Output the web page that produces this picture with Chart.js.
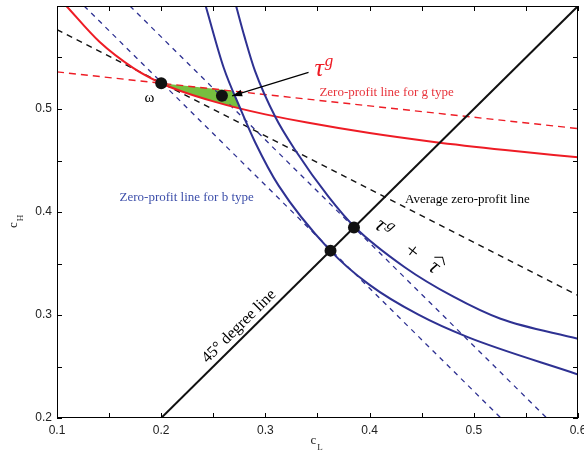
<!DOCTYPE html>
<html>
<head>
<meta charset="utf-8">
<script src="https://cdn.jsdelivr.net/npm/chart.js@4.4.0/dist/chart.umd.min.js"></script>
<style>
  html, body { margin: 0; padding: 0; background: #fff; }
  canvas { display: block; }
</style>
</head>
<body>
<canvas id="chart" width="584" height="456"></canvas>
<script>
// straight zero-profit lines
const gLineX = [0.1, 0.6];
const gLineY = [0.536, 0.481];
const avgLineX = [0.1, 0.6];
const avgLineY = [0.577, 0.319];
const bLine1X = [0.126, 0.526];
const bLine1Y = [0.6, 0.2];
const bLine2X = [0.17, 0.57];
const bLine2Y = [0.6, 0.2];
const diagX = [0.2, 0.6];
const diagY = [0.2, 0.6];

// indifference curves
const gCurveX = [0.109, 0.141, 0.173, 0.2, 0.22, 0.25, 0.275, 0.3, 0.34, 0.4, 0.46, 0.53, 0.6];
const gCurveY = [0.600, 0.565, 0.540, 0.525, 0.517, 0.5074, 0.5006, 0.4948, 0.4868, 0.4766, 0.4682, 0.4601, 0.4531];
const bCurve1X = [0.2427, 0.26, 0.2761, 0.29, 0.3127, 0.3614, 0.4, 0.4464, 0.4942, 0.6];
const bCurve1Y = [0.600, 0.540, 0.500, 0.468, 0.4256, 0.3635, 0.3292, 0.3005, 0.2785, 0.2423];
const bCurve2X = [0.2719, 0.28, 0.29, 0.3098, 0.3287, 0.3605, 0.386, 0.4337, 0.48, 0.5257, 0.6];
const bCurve2Y = [0.600, 0.570, 0.537, 0.4917, 0.4600, 0.4150, 0.3852, 0.3464, 0.318, 0.2963, 0.2769];

// shaded set (green)
const shadeX = [0.2, 0.2689, 0.2757, 0.25, 0.22, 0.2];
const shadeY = [0.525, 0.5176, 0.5004, 0.5074, 0.517, 0.525];

// marked points: omega, tau^g, and the two points on the 45 degree line
const dotX = [0.2, 0.2583, 0.3625, 0.385];
const dotY = [0.525, 0.5129, 0.3625, 0.385];

// arrow from the tau^g label to its point
const arrowX = [0.3414, 0.2681];
const arrowY = [0.5355, 0.5127];

// axis ticks
const xTickVals = [0.1, 0.15, 0.2, 0.25, 0.3, 0.35, 0.4, 0.45, 0.5, 0.55, 0.6];
const yTickVals = [0.2, 0.25, 0.3, 0.35, 0.4, 0.45, 0.5, 0.55, 0.6];

const RED = '#ee1c25';
const BLUE = '#2e3192';
const SERIF = '"Liberation Serif", "Times New Roman", serif';
const SANS = '"Liberation Sans", Arial, sans-serif';

function pts(xs, ys) {
  return xs.map((v, i) => ({x: v, y: ys[i]}));
}

function line(xs, ys, color, width, dash, smooth) {
  return {
    data: pts(xs, ys),
    showLine: true,
    borderColor: color,
    borderWidth: width,
    borderDash: dash || [],
    pointRadius: 0,
    fill: false,
    cubicInterpolationMode: smooth ? 'monotone' : 'default',
    tension: 0
  };
}

// main text followed by a smaller raised/lowered piece
function sub(ctx, main, small, px, py, size, smallSize, color, shift, italic) {
  const st = italic ? 'italic ' : '';
  ctx.fillStyle = color;
  ctx.font = st + size + 'px ' + SERIF;
  ctx.fillText(main, px, py);
  const w = ctx.measureText(main).width;
  ctx.font = st + smallSize + 'px ' + SERIF;
  ctx.fillText(small, px + w + 1, py + shift);
}

const annot = {
  id: 'annot',
  afterDatasetsDraw(chart) {
    const {ctx, scales: {x, y}} = chart;
    const X = v => x.getPixelForValue(v);
    const Y = v => y.getPixelForValue(v);
    ctx.save();

    // arrow head
    const tx = X(arrowX[1]), ty = Y(arrowY[1]);
    const ang = Math.atan2(ty - Y(arrowY[0]), tx - X(arrowX[0]));
    ctx.fillStyle = '#000';
    ctx.beginPath();
    ctx.moveTo(tx, ty);
    ctx.lineTo(tx - 10 * Math.cos(ang) + 3.5 * Math.sin(ang), ty - 10 * Math.sin(ang) - 3.5 * Math.cos(ang));
    ctx.lineTo(tx - 10 * Math.cos(ang) - 3.5 * Math.sin(ang), ty - 10 * Math.sin(ang) + 3.5 * Math.cos(ang));
    ctx.closePath();
    ctx.fill();

    // tau^g label (red)
    ctx.textBaseline = 'alphabetic';
    ctx.textAlign = 'left';
    sub(ctx, 'τ', 'g', X(0.3471), Y(0.5323), 26, 17, RED, -10, true);

    ctx.textBaseline = 'middle';
    ctx.font = '13px ' + SERIF;
    ctx.fillStyle = '#e8343c';
    ctx.fillText('Zero-profit line for g type', X(0.3518), Y(0.5158));
    ctx.fillStyle = '#3d4faa';
    ctx.fillText('Zero-profit line for b type', X(0.16), Y(0.414));
    ctx.fillStyle = '#000';
    ctx.fillText('Average zero-profit line', X(0.434), Y(0.412));

    ctx.font = '15px ' + SERIF;
    ctx.textAlign = 'center';
    ctx.fillText('ω', X(0.1886), Y(0.511));

    // 45 degree label along the diagonal
    ctx.save();
    ctx.translate(X(0.2747), Y(0.2889));
    ctx.rotate(-Math.atan2(Y(0.2) - Y(0.6), X(0.6) - X(0.2)));
    ctx.font = '16px ' + SERIF;
    ctx.fillText('45° degree line', 0, 0);
    ctx.restore();

    // tau^g + tau-hat label
    ctx.save();
    ctx.translate(X(0.4075), Y(0.3895));
    ctx.rotate(38 * Math.PI / 180);
    ctx.textAlign = 'left';
    ctx.textBaseline = 'middle';
    sub(ctx, 'τ', 'g', 0, 0, 22, 15, '#000', -6, true);
    ctx.font = '22px ' + SERIF;
    ctx.textAlign = 'center';
    ctx.fillText('+', 45, 2);
    ctx.font = 'italic 22px ' + SERIF;
    ctx.fillText('τ', 72, 0);
    ctx.strokeStyle = '#000';
    ctx.lineWidth = 1;
    ctx.beginPath();
    ctx.moveTo(66, -8);
    ctx.lineTo(72.5, -13);
    ctx.lineTo(79, -8);
    ctx.stroke();
    ctx.restore();

    ctx.restore();
  },
  afterDraw(chart) {
    const {ctx, chartArea: a, scales: {x, y}} = chart;
    ctx.save();
    ctx.strokeStyle = '#000';
    ctx.lineWidth = 1;
    ctx.strokeRect(a.left + 0.5, a.top + 0.5, a.right - a.left - 1, a.bottom - a.top - 1);
    ctx.beginPath();
    xTickVals.forEach(v => {
      const p = Math.round(x.getPixelForValue(v)) + 0.5;
      ctx.moveTo(p, a.bottom); ctx.lineTo(p, a.bottom - 5);
      ctx.moveTo(p, a.top); ctx.lineTo(p, a.top + 5);
    });
    yTickVals.forEach(v => {
      const p = Math.round(y.getPixelForValue(v)) + 0.5;
      ctx.moveTo(a.left, p); ctx.lineTo(a.left + 5, p);
      ctx.moveTo(a.right, p); ctx.lineTo(a.right - 5, p);
    });
    ctx.stroke();

    // axis titles with subscripts
    ctx.textBaseline = 'middle';
    ctx.textAlign = 'left';
    const cx = (a.left + a.right) / 2 - 7;
    sub(ctx, 'c', 'L', cx, a.bottom + 23, 13, 9, '#222', 7, false);
    ctx.save();
    ctx.translate(14, (a.top + a.bottom) / 2 + 16);
    ctx.rotate(-Math.PI / 2);
    sub(ctx, 'c', 'H', 0, 0, 13, 9, '#222', 7, false);
    ctx.restore();
    ctx.restore();
  }
};

const datasets = [
  {
    data: pts(dotX, dotY),
    showLine: false,
    pointRadius: 6,
    pointBackgroundColor: '#111',
    pointBorderColor: '#111',
    pointBorderWidth: 0
  },
  line(arrowX, arrowY, '#000', 1.2),
  line(diagX, diagY, '#111', 2),
  line(bCurve1X, bCurve1Y, BLUE, 2, null, true),
  line(bCurve2X, bCurve2Y, BLUE, 2, null, true),
  line(gCurveX, gCurveY, RED, 2, null, true),
  line(gLineX, gLineY, RED, 1.4, [7, 5]),
  line(avgLineX, avgLineY, '#111', 1.4, [6, 5]),
  line(bLine1X, bLine1Y, BLUE, 1.3, [5, 5]),
  line(bLine2X, bLine2Y, BLUE, 1.3, [5, 5]),
  {
    data: pts(shadeX, shadeY),
    showLine: true,
    borderWidth: 0,
    borderColor: 'rgba(0,0,0,0)',
    backgroundColor: '#77bf3f',
    fill: 'shape',
    pointRadius: 0,
    tension: 0
  }
];

new Chart(document.getElementById('chart'), {
  type: 'scatter',
  data: {datasets},
  options: {
    responsive: false,
    animation: false,
    devicePixelRatio: 1,
    layout: {padding: {top: 5, right: 3, left: 0, bottom: 0}},
    plugins: {legend: {display: false}, tooltip: {enabled: false}},
    scales: {
      x: {
        type: 'linear',
        min: 0.1,
        max: 0.6,
        afterFit(s) { s.height = 38; s.paddingLeft = 0; s.paddingRight = 0; },
        grid: {display: false, drawTicks: false},
        border: {display: false},
        ticks: {
          stepSize: 0.1,
          padding: 5,
          autoSkip: false,
          maxRotation: 0,
          color: '#222',
          font: {family: SANS, size: 12},
          callback: v => v.toFixed(1)
        }
      },
      y: {
        type: 'linear',
        min: 0.2,
        max: 0.6,
        afterFit(s) { s.width = 57; s.paddingTop = 0; s.paddingBottom = 0; },
        grid: {display: false, drawTicks: false},
        border: {display: false},
        ticks: {
          stepSize: 0.1,
          padding: 5,
          color: '#222',
          font: {family: SANS, size: 12},
          callback: v => (v > 0.59 ? '' : v.toFixed(1))
        }
      }
    }
  },
  plugins: [annot]
});
</script>
</body>
</html>
